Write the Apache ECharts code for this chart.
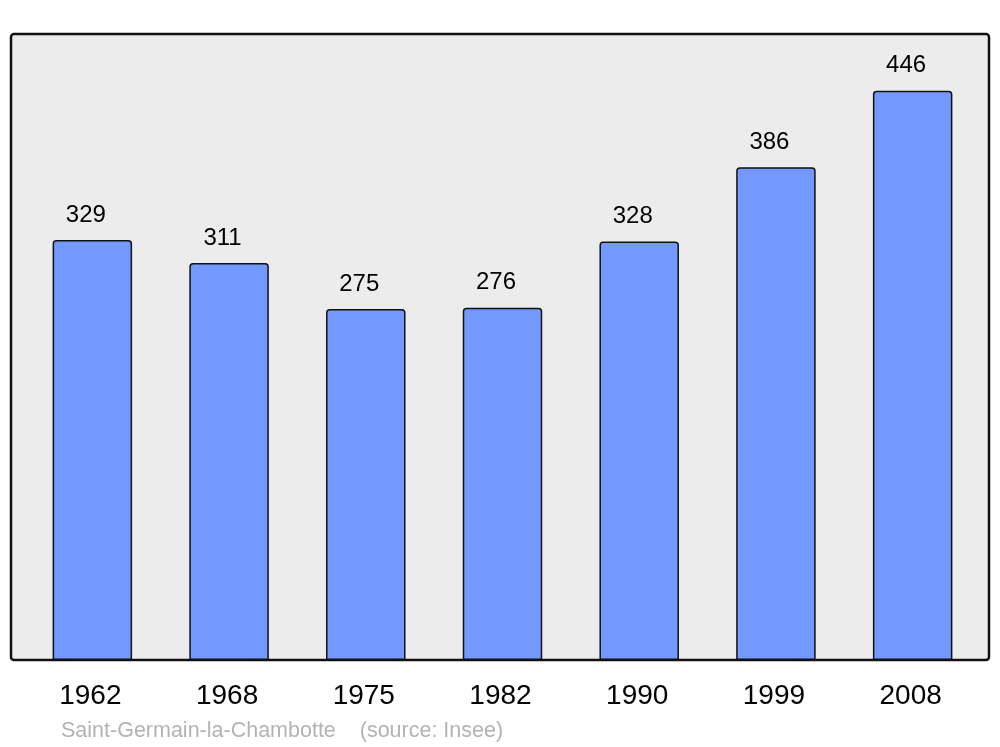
<!DOCTYPE html>
<html><head><meta charset="utf-8">
<script src="https://cdn.jsdelivr.net/npm/echarts@6/dist/echarts.min.js"></script>
<style>html,body{margin:0;padding:0;background:#fff}#c{width:1000px;height:747px}</style>
</head><body><div id="c"></div>
<script>
const years = ['1962','1968','1975','1982','1990','1999','2008'];
const population = [329, 311, 275, 276, 328, 386, 446];
const footer = 'Saint-Germain-la-Chambotte    (source: Insee)';

const chart = echarts.init(document.getElementById('c'), null, {renderer:'canvas'});
chart.setOption({
  animation: false,
  backgroundColor: '#ffffff',
  graphic: [
    {type:'rect', z:-10, shape:{x:11, y:34, width:978, height:626, r:3},
     style:{fill:'#ececec', stroke:'#111', lineWidth:2.5}},
    {type:'text', left:61, top:720, z:10,
     style:{text:footer, fill:'#b3b3b3', font:'21.5px "Liberation Sans", Arial, sans-serif'}}
  ],
  grid: {left:24, right:19, top:34, bottom:87},
  xAxis: {
    type:'category', data: years,
    axisLine:{show:false}, axisTick:{show:false},
    axisLabel:{color:'#000', fontSize:28, fontFamily:'Liberation Sans', margin:22, padding:[0,4,0,0]}
  },
  yAxis: {type:'value', min:0, max:490.5, show:false, splitLine:{show:false}},
  series: [{
    type:'bar', data: population, barWidth:79.5,
    itemStyle:{color:'#7399ff', borderColor:'#111', borderWidth:1.5, borderRadius:[3,3,0,0]},
    label:{show:true, position:'top', distance:13, offset:[-6.5,0], color:'#000', fontSize:24, fontFamily:'Liberation Sans'}
  }]
});
</script></body></html>
